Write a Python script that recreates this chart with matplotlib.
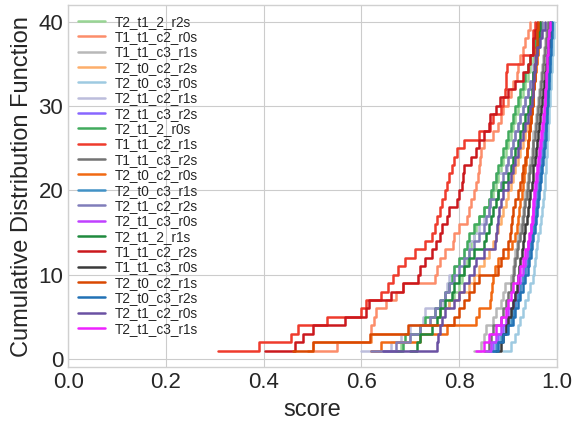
import numpy as np
import matplotlib
matplotlib.use("Agg")
import matplotlib.pyplot as plt

plt.style.use("seaborn-v0_8-whitegrid")
plt.rcParams['font.family'] = ['Liberation Sans', 'DejaVu Sans']

# series names, in legend order
names = [
    "T2_t1_2_r2s", "T1_t1_c2_r0s", "T1_t1_c3_r1s", "T2_t0_c2_r2s", "T2_t0_c3_r0s",
    "T2_t1_c2_r1s", "T2_t1_c3_r2s", "T2_t1_2_r0s", "T1_t1_c2_r1s", "T1_t1_c3_r2s",
    "T2_t0_c2_r0s", "T2_t0_c3_r1s", "T2_t1_c2_r2s", "T2_t1_c3_r0s", "T2_t1_2_r1s",
    "T1_t1_c2_r2s", "T1_t1_c3_r0s", "T2_t0_c2_r1s", "T2_t0_c3_r2s", "T2_t1_c2_r0s",
    "T2_t1_c3_r1s",
]
colors = [
    "#98d594", "#fc8d6a", "#b8b8b8", "#fdae6b", "#9ecae1",
    "#bcbddc", "#8866ff", "#41ab5d", "#ef3b2c", "#737373",
    "#f16913", "#4292c6", "#807dba", "#c040ff", "#1f8a3e",
    "#cb181d", "#3a3a3a", "#d94801", "#2171b5", "#6a51a3",
    "#ee22ff",
]

# sorted scores of each run (40 samples each)
T2_t1_2_r2s = [.66, .68, .70, .72, .74, .76, .78, .79, .80, .805, .81, .815, .82, .825, .83, .835, .84, .85, .86, .87,
               .875, .88, .885, .89, .895, .90, .905, .91, .915, .92, .925, .93, .935, .94, .945, .95, .955, .96, .965, .97]
T1_t1_c2_r0s = [.49, .55, .62, .62, .625, .63, .65, .67, .685, .75, .755, .76, .77, .787, .79, .80, .815, .82, .825, .83,
                .835, .838, .84, .842, .845, .85, .87, .88, .885, .89, .90, .905, .91, .918, .92, .925, .93, .935, .94, .945]
T1_t1_c3_r1s = [.83, .845, .85, .855, .87, .875, .885, .89, .893, .905, .91, .912, .915, .918, .92, .925, .928, .93, .933, .935,
                .938, .94, .943, .945, .948, .95, .952, .955, .958, .96, .962, .964, .966, .968, .97, .972, .974, .976, .978, .98]
T2_t0_c2_r2s = [.49, .50, .62, .72, .74, .76, .78, .80, .82, .83, .84, .85, .86, .87, .875, .88, .885, .89, .895, .90,
                .905, .91, .915, .92, .925, .93, .935, .94, .945, .948, .95, .952, .954, .956, .958, .96, .962, .964, .966, .968]
T2_t0_c3_r0s = [.89, .905, .915, .92, .925, .93, .935, .94, .945, .95, .953, .955, .958, .96, .962, .965, .967, .969, .971, .973,
                .975, .976, .977, .978, .979, .98, .981, .982, .983, .984, .985, .986, .987, .988, .989, .99, .991, .992, .993, .994]
T2_t1_c2_r1s = [.60, .66, .68, .70, .726, .73, .767, .77, .775, .78, .79, .80, .81, .82, .83, .84, .85, .86, .863, .865,
                .87, .875, .898, .90, .905, .91, .915, .92, .925, .93, .935, .94, .945, .95, .952, .955, .958, .96, .962, .965]
T2_t1_c3_r2s = [.86, .87, .88, .89, .90, .91, .915, .92, .925, .93, .935, .938, .941, .944, .947, .95, .953, .955, .957, .959,
                .961, .963, .965, .967, .969, .971, .973, .975, .976, .977, .978, .979, .98, .981, .982, .983, .984, .985, .986, .987]
T2_t1_2_r0s = [.67, .685, .69, .72, .73, .75, .76, .77, .78, .785, .79, .80, .81, .815, .82, .83, .84, .85, .86, .865,
               .87, .875, .88, .885, .89, .895, .90, .905, .91, .915, .92, .925, .93, .935, .94, .945, .95, .955, .96, .965]
T1_t1_c2_r1s = [.307, .39, .455, .47, .53, .60, .61, .64, .655, .665, .675, .69, .71, .73, .745, .75, .755, .76, .765, .77,
                .775, .78, .785, .79, .795, .81, .84, .863, .87, .885, .89, .893, .895, .895, .897, .93, .95, .95, .95, .955]
T1_t1_c3_r2s = [.85, .86, .865, .87, .885, .89, .895, .90, .905, .91, .913, .915, .918, .92, .925, .928, .93, .933, .935, .938,
                .94, .942, .945, .948, .95, .952, .955, .957, .96, .962, .964, .966, .968, .97, .972, .974, .976, .978, .98, .982]
T2_t0_c2_r0s = [.62, .64, .72, .775, .835, .84, .863, .865, .868, .87, .873, .88, .90, .908, .915, .918, .92, .922, .925, .928,
                .93, .932, .934, .936, .938, .94, .942, .944, .946, .948, .95, .952, .954, .956, .958, .96, .962, .963, .964, .966]
T2_t0_c3_r1s = [.865, .875, .885, .895, .905, .91, .915, .92, .925, .93, .935, .94, .943, .946, .949, .952, .955, .957, .959, .961,
                .963, .965, .967, .969, .971, .973, .975, .977, .978, .979, .98, .981, .982, .983, .984, .985, .986, .987, .988, .99]
T2_t1_c2_r2s = [.62, .67, .70, .72, .74, .75, .76, .77, .78, .79, .80, .81, .82, .83, .84, .85, .855, .86, .863, .88,
                .885, .89, .895, .90, .905, .91, .915, .92, .925, .93, .935, .94, .945, .95, .953, .956, .96, .963, .966, .97]
T2_t1_c3_r0s = [.855, .865, .875, .885, .895, .90, .91, .915, .92, .925, .93, .935, .938, .941, .944, .947, .95, .952, .954, .956,
                .958, .96, .962, .964, .966, .968, .97, .972, .974, .975, .976, .977, .978, .979, .98, .981, .982, .983, .984, .985]
T2_t1_2_r1s = [.70, .713, .72, .745, .755, .76, .77, .785, .79, .80, .81, .82, .83, .85, .855, .86, .865, .87, .875, .88,
               .89, .90, .905, .91, .915, .92, .925, .93, .935, .94, .945, .948, .95, .952, .955, .958, .96, .962, .964, .966]
T1_t1_c2_r2s = [.403, .464, .48, .50, .566, .61, .615, .66, .685, .715, .72, .73, .745, .753, .76, .765, .775, .78, .795, .80,
                .805, .808, .81, .825, .835, .84, .85, .86, .863, .875, .883, .90, .914, .93, .94, .945, .95, .952, .955, .96]
T1_t1_c3_r0s = [.875, .885, .89, .895, .90, .905, .91, .915, .918, .92, .923, .925, .928, .93, .933, .935, .938, .94, .942, .945,
                .948, .95, .952, .955, .957, .96, .962, .964, .966, .968, .97, .972, .974, .976, .978, .98, .982, .984, .985, .986]
T2_t0_c2_r1s = [.46, .50, .618, .695, .79, .80, .81, .82, .83, .84, .88, .885, .89, .90, .904, .906, .908, .91, .915, .92,
                .925, .928, .93, .935, .938, .94, .942, .944, .946, .948, .95, .952, .954, .955, .956, .957, .958, .959, .96, .962]
T2_t0_c3_r2s = [.87, .88, .89, .90, .91, .915, .92, .925, .93, .935, .94, .943, .946, .949, .952, .955, .957, .959, .961, .963,
                .965, .967, .969, .971, .973, .975, .977, .978, .979, .98, .981, .982, .983, .984, .985, .986, .987, .988, .989, .99]
T2_t1_c2_r0s = [.645, .755, .757, .76, .765, .77, .79, .80, .81, .82, .83, .835, .85, .873, .875, .877, .88, .882, .885, .89,
                .90, .905, .91, .915, .92, .925, .93, .935, .94, .945, .948, .95, .952, .954, .956, .958, .96, .965, .97, .975]
T2_t1_c3_r1s = [.835, .85, .86, .875, .885, .895, .90, .905, .91, .92, .925, .93, .935, .94, .943, .946, .948, .95, .952, .954,
                .956, .958, .96, .962, .964, .966, .968, .97, .972, .974, .975, .976, .977, .978, .979, .98, .981, .982, .983, .985]

series = [
    T2_t1_2_r2s, T1_t1_c2_r0s, T1_t1_c3_r1s, T2_t0_c2_r2s, T2_t0_c3_r0s,
    T2_t1_c2_r1s, T2_t1_c3_r2s, T2_t1_2_r0s, T1_t1_c2_r1s, T1_t1_c3_r2s,
    T2_t0_c2_r0s, T2_t0_c3_r1s, T2_t1_c2_r2s, T2_t1_c3_r0s, T2_t1_2_r1s,
    T1_t1_c2_r2s, T1_t1_c3_r0s, T2_t0_c2_r1s, T2_t0_c3_r2s, T2_t1_c2_r0s,
    T2_t1_c3_r1s,
]

fig = plt.figure(figsize=(5.73, 4.22), dpi=100)
ax = fig.add_axes([0.119, 0.130, 0.853, 0.858])

for name, vals, c in zip(names, series, colors):
    x = np.sort(np.array(vals))
    y = np.arange(1, len(x) + 1)
    ax.step(x, y, where="post", color=c, lw=1.8, label=name)

ax.set_xlim(0, 1)
ax.set_xlabel("score", fontsize=17)
ax.set_ylabel("Cumulative Distribution Function", fontsize=17)
ax.tick_params(labelsize=16)
for s in ax.spines.values():
    s.set_visible(True)
    s.set_color("#d0d0d0")
ax.legend(loc="upper left", fontsize=9.8, frameon=False, labelspacing=0.1, handlelength=2.0,
          handletextpad=0.7, borderaxespad=0.3)

fig.savefig("out.png", dpi=100)
